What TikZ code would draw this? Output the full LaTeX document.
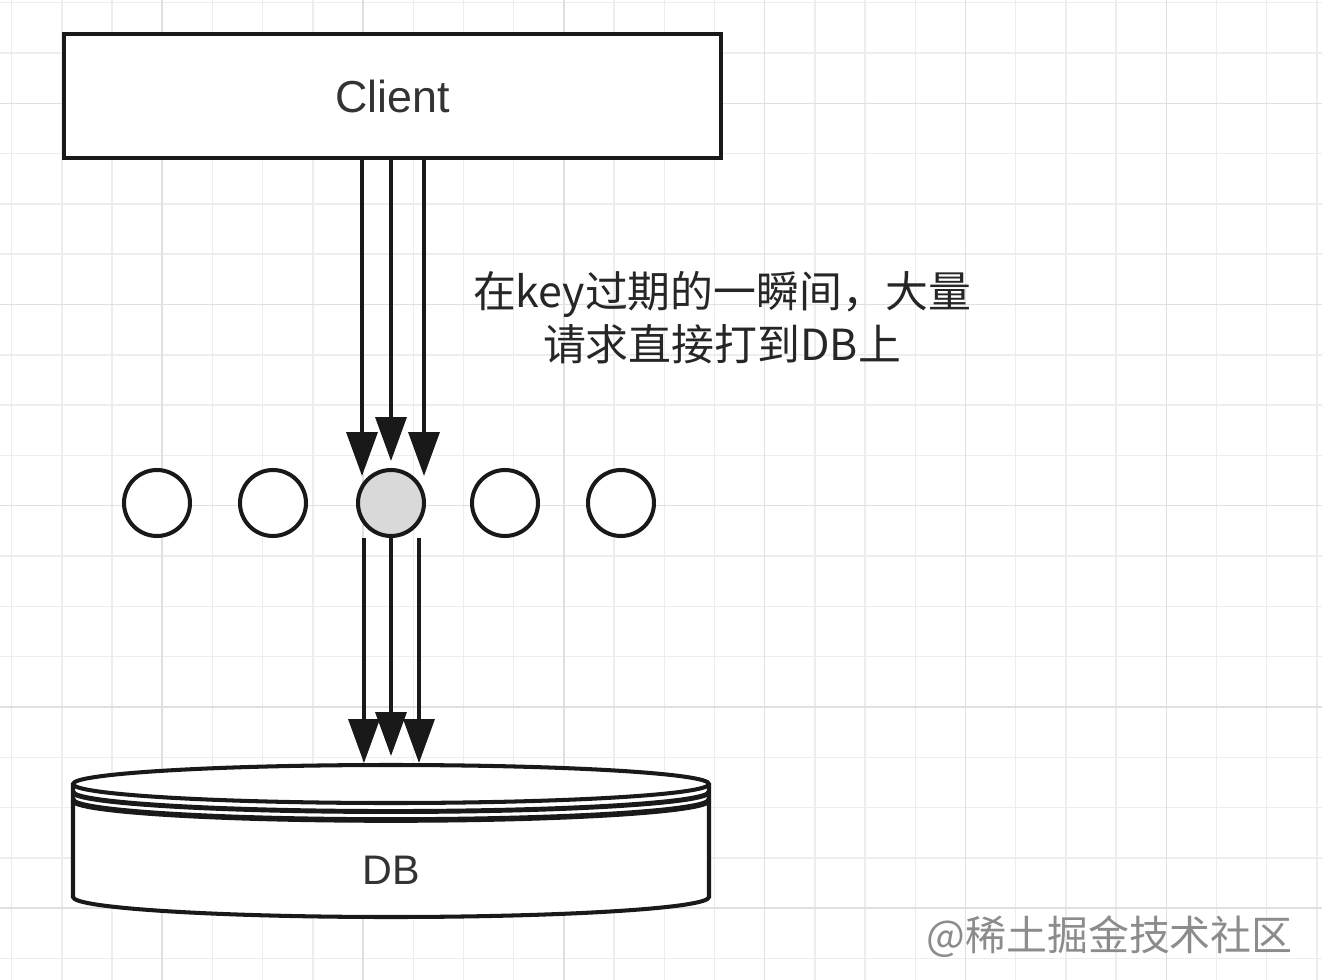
\documentclass[tikz,border=0pt]{standalone}
\usepackage{fontspec}
\setmainfont{Liberation Sans}
\newfontfamily\cjk{Noto Sans CJK SC}
\usetikzlibrary{arrows.meta}
\tikzstyle{gridline}=[line width=0.8pt, color=black!7]
\tikzstyle{gridmajor}=[line width=0.8pt, color=black!12]
\tikzstyle{box}=[rectangle, draw=black!90, line width=2.3pt, fill=white, minimum width=13.14cm, minimum height=2.48cm, text=black!80, font=\fontsize{25.5}{30}\selectfont]
\tikzstyle{key}=[shape=circle, minimum size=1.32cm, inner sep=0, line width=2.3pt, draw=black!90, fill=white]
\tikzstyle{req}=[line width=2pt, draw=black!90, -{Triangle[length=0.88cm, width=0.62cm]}]
\tikzstyle{dbline}=[line width=2.3pt, draw=black!90]

\begin{document}
\begin{tikzpicture}[x=0.02cm, y=-0.02cm]
\useasboundingbox (0,0) rectangle (1322,980);
\fill[white] (0,0) rectangle (1322,980);
\foreach \i in {0,...,26} \draw[gridline] (11.6+50.2*\i,0) -- (11.6+50.2*\i,980);
\foreach \j in {0,...,19} \draw[gridline] (0,2.7+50.3*\j) -- (1322,2.7+50.3*\j);
\foreach \i in {3,7,11,15,19,23} \draw[gridmajor] (11.6+50.2*\i,0) -- (11.6+50.2*\i,980);
\foreach \j in {2,6,10,14,18} \draw[gridmajor] (0,2.7+50.3*\j) -- (1322,2.7+50.3*\j);

\node[box] (client) at (392.5,96) {Client};

% the database
\draw[dbline, fill=white] (73,784) -- (73,897) arc[start angle=180, end angle=0, x radius=318, y radius=20]
  -- (709,784) arc[start angle=0, end angle=-180, x radius=318, y radius=19] -- cycle;
\draw[dbline] (73,784) arc[start angle=180, end angle=0, x radius=318, y radius=19];
\draw[dbline, line width=2.8pt] (73,792) arc[start angle=180, end angle=0, x radius=318, y radius=19.5];
\draw[dbline, line width=3.2pt] (73,800) arc[start angle=180, end angle=0, x radius=318, y radius=20];
\node[text=black!80, font=\fontsize{23.5}{28}\selectfont] (db) at (391,870) {DB};

\node[key] (k1) at (157,503) {};
\node[key] (k2) at (273,503) {};
\node[key, fill=black!15] (hot) at (391,503) {};
\node[key] (k4) at (505,503) {};
\node[key] (k5) at (621,503) {};

\coordinate (i1) at (362,476);
\coordinate (i2) at (391,461);
\coordinate (i3) at (424,476);
\coordinate (o1) at (364,763);
\coordinate (o2) at (391,756);
\coordinate (o3) at (419,763);
\foreach \n in {1,2,3} {
  \draw[req] (client.south -| i\n) -- (i\n);
  \draw[req] (hot.south -| o\n) -- (o\n);
}

\node[align=center, text=black!85, font=\cjk\fontsize{24.4}{30}\selectfont] (note) at (722,318) {在key过期的一瞬间，大量\\请求直接打到DB上};
\node[anchor=east, text=black!45, font=\cjk\fontsize{23.3}{28}\selectfont] (mark) at (1299,937) {@稀土掘金技术社区};
\end{tikzpicture}
\end{document}
